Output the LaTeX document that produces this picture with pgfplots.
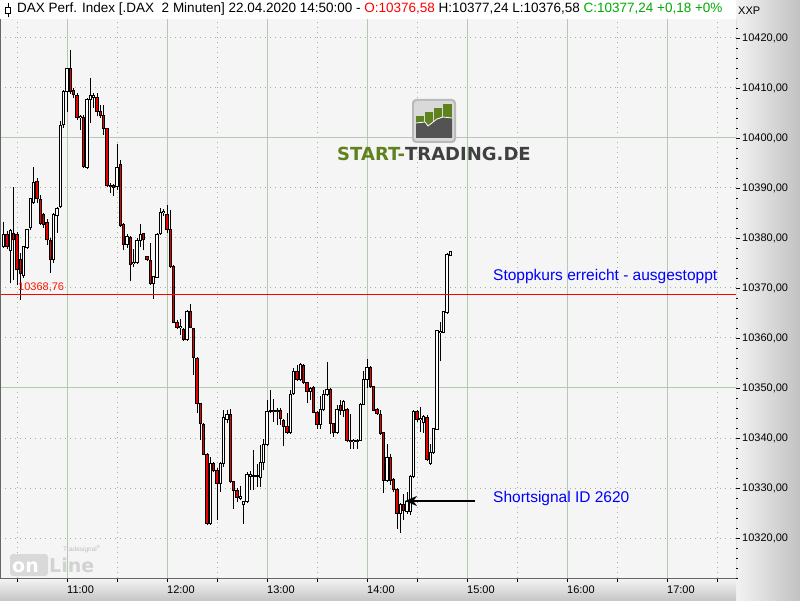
\documentclass[border=0pt]{standalone}
\usepackage{fontspec}
\setmainfont{Liberation Sans}
\newfontfamily\logofont{DejaVu Sans}
\usepackage{pgfplots}
\pgfplotsset{compat=1.18}
\usepackage{pgfplotstable}
\usetikzlibrary{arrows.meta}
\definecolor{bgplot}{RGB}{245,245,245}
\definecolor{gridsolid}{RGB}{180,202,176}
\definecolor{griddot}{RGB}{150,182,150}
\definecolor{candlered}{RGB}{235,0,0}
\definecolor{logogreen}{RGB}{96,130,30}
\definecolor{logogray}{RGB}{64,64,64}
\definecolor{titlegreen}{RGB}{0,170,0}
\definecolor{annblue}{RGB}{0,0,255}

% candle index k: 10:22 + 2 min * k
\pgfplotstableread{
k O H L C
0 10378.2 10383.2 10378.0 10380.8
2 10377.4 10381.8 10371.0 10381.4
6 10372.4 10378.4 10372.0 10378.2
7 10378.0 10381.8 10377.8 10381.6
8 10382.0 10388.0 10381.6 10387.8
9 10387.0 10394.2 10386.8 10391.2
15 10375.6 10385.0 10375.0 10384.8
16 10384.4 10386.2 10381.0 10386.0
17 10386.2 10403.4 10386.0 10402.6
18 10402.6 10409.6 10402.0 10409.2
19 10409.2 10414.0 10405.2 10413.8
23 10404.0 10404.6 10401.6 10404.4
25 10394.1 10408.0 10393.8 10407.6
26 10407.6 10412.0 10403.0 10408.4
27 10408.0 10409.0 10406.0 10408.4
34 10390.3 10398.8 10389.6 10394.1
37 10378.6 10380.8 10378.0 10380.4
39 10374.8 10377.9 10374.2 10375.1
40 10375.1 10380.0 10374.8 10379.5
41 10379.5 10382.8 10378.2 10380.8
45 10370.8 10372.5 10367.8 10372.3
46 10372.1 10381.0 10372.0 10380.8
47 10380.8 10385.9 10380.6 10385.1
48 10385.0 10385.9 10384.3 10385.3
53 10362.0 10363.9 10360.6 10362.3
55 10359.6 10365.7 10359.4 10365.4
62 10322.9 10336.3 10322.7 10334.9
65 10330.9 10335.2 10329.3 10334.9
66 10334.9 10345.6 10334.3 10344.1
67 10343.7 10345.6 10343.0 10344.7
71 10328.0 10330.4 10327.6 10328.3
72 10326.8 10327.5 10322.9 10327.3
73 10327.3 10333.2 10327.0 10332.8
74 10332.4 10333.5 10329.6 10332.8
76 10332.3 10334.9 10330.3 10332.5
77 10332.1 10338.6 10330.3 10335.1
78 10335.1 10339.9 10333.6 10338.7
79 10338.7 10347.6 10338.5 10345.3
80 10345.3 10349.6 10344.9 10345.5
82 10345.2 10346.0 10342.6 10345.4
86 10341.1 10349.6 10340.9 10348.8
87 10348.8 10353.9 10348.6 10353.3
89 10351.6 10355.0 10351.3 10354.6
92 10349.3 10350.2 10347.6 10349.9
95 10342.8 10348.3 10341.9 10345.6
96 10345.6 10349.6 10345.3 10348.8
97 10348.6 10355.3 10348.3 10349.7
100 10341.1 10346.6 10340.9 10345.6
102 10345.5 10347.6 10344.1 10347.3
105 10339.3 10339.9 10337.9 10339.6
106 10339.4 10339.8 10337.9 10339.6
107 10339.6 10347.0 10339.4 10346.7
108 10346.7 10353.5 10346.5 10351.7
109 10351.7 10355.9 10349.9 10354.1
115 10331.6 10338.8 10331.3 10336.1
119 10324.9 10327.0 10321.1 10326.8
121 10325.3 10329.3 10324.9 10327.3
122 10325.3 10332.6 10324.6 10332.3
123 10332.3 10345.6 10332.0 10345.3
125 10343.6 10346.3 10341.3 10343.9
126 10343.1 10344.6 10341.0 10344.3
128 10334.9 10338.9 10334.7 10337.1
129 10337.1 10342.1 10336.9 10341.9
130 10341.8 10361.6 10341.6 10361.4
131 10361.1 10363.3 10355.3 10361.4
132 10361.1 10365.5 10360.9 10365.3
133 10365.1 10377.0 10364.8 10376.8
134 10376.58 10377.24 10376.58 10377.24
}\up

\pgfplotstableread{
k O H L C
1 10380.8 10381.5 10377.8 10378.2
3 10381.0 10390.2 10371.6 10379.6
4 10380.8 10381.2 10370.6 10373.6
5 10375.6 10377.0 10367.6 10372.8
10 10391.2 10392.0 10387.0 10387.8
11 10387.8 10388.6 10382.6 10382.8
12 10384.6 10385.0 10382.0 10382.6
13 10383.0 10383.8 10378.6 10379.6
14 10379.4 10380.0 10373.0 10375.6
20 10413.8 10417.6 10408.8 10409.2
21 10409.4 10410.0 10408.0 10408.6
22 10408.6 10409.0 10403.6 10404.0
24 10404.2 10404.6 10394.0 10394.2
28 10408.2 10409.0 10404.3 10405.3
29 10405.3 10406.6 10404.0 10404.4
30 10404.4 10406.6 10400.6 10401.9
31 10401.9 10402.0 10390.2 10390.4
32 10390.6 10391.0 10388.9 10390.2
33 10390.6 10390.8 10388.3 10390.1
35 10394.6 10395.6 10382.2 10382.4
36 10382.8 10383.0 10377.6 10378.6
38 10380.1 10380.4 10371.3 10374.7
42 10380.8 10381.0 10377.5 10379.6
43 10376.3 10376.5 10375.4 10375.7
44 10375.6 10378.9 10370.6 10370.8
49 10384.8 10386.6 10381.0 10381.6
50 10381.6 10385.6 10374.0 10374.3
51 10374.4 10374.6 10362.9 10363.1
52 10363.1 10363.5 10361.8 10362.1
54 10361.7 10362.0 10359.4 10359.6
56 10365.4 10366.9 10362.0 10362.1
57 10361.9 10362.1 10352.6 10356.1
58 10355.9 10356.1 10344.9 10346.9
59 10346.9 10347.0 10339.6 10342.9
60 10342.8 10343.0 10336.6 10336.8
61 10336.8 10337.0 10322.6 10322.9
63 10334.9 10335.2 10333.2 10333.5
64 10333.6 10334.0 10323.6 10330.9
68 10344.7 10345.9 10331.0 10331.3
69 10331.3 10331.5 10325.9 10329.6
70 10329.6 10330.0 10327.3 10328.1
75 10332.6 10337.6 10329.6 10332.4
81 10345.5 10347.9 10343.3 10345.2
83 10345.4 10346.0 10342.6 10343.9
84 10343.6 10343.9 10338.4 10342.3
85 10342.4 10344.9 10340.9 10341.1
88 10353.3 10354.6 10351.3 10351.6
90 10354.6 10354.8 10350.8 10351.1
91 10351.1 10351.3 10346.9 10349.3
93 10350.1 10350.4 10344.9 10345.1
94 10345.1 10345.3 10341.9 10342.8
98 10349.7 10350.0 10340.9 10342.9
99 10342.9 10343.1 10340.3 10341.1
101 10346.6 10347.6 10344.6 10345.5
103 10345.6 10346.0 10339.3 10339.5
104 10339.6 10344.9 10337.9 10339.3
110 10354.1 10354.3 10350.0 10350.3
111 10350.3 10350.5 10345.3 10345.5
112 10345.6 10346.0 10344.6 10344.8
113 10344.8 10345.5 10340.6 10340.9
114 10341.1 10341.3 10329.1 10331.6
116 10336.1 10336.8 10330.6 10331.6
117 10331.7 10332.0 10329.3 10329.7
118 10329.7 10330.0 10321.9 10324.9
120 10326.8 10328.9 10323.6 10325.5
124 10345.3 10345.6 10343.3 10343.6
127 10344.1 10344.6 10335.5 10335.7
}\down

\pgfplotsset{
  wick/.style={draw=none, no markers, forget plot,
    error bars/.cd, y dir=plus, y explicit, error mark=none,
    error bar style={draw=black, line width=1pt, line cap=butt}},
  bodyout/.style={draw=none, no markers, forget plot,
    error bars/.cd, y dir=plus, y explicit, error mark=none,
    error bar style={draw=black, line width=3.2pt, line cap=butt, shorten <=-0.5pt, shorten >=-0.5pt}},
  bodyin/.style={draw=none, no markers, forget plot,
    error bars/.cd, y dir=plus, y explicit, error mark=none,
    error bar style={draw=#1, line width=1.2pt, line cap=butt, shorten <=0.5pt, shorten >=0.5pt}},
}

\begin{document}
\begin{tikzpicture}[x=1pt,y=1pt]
\useasboundingbox (0,0) rectangle (800,600);
\fill[white] (0,0) rectangle (800,600);
\shade[left color=white!95!black, right color=white!76!black] (736,0) rectangle (800,600);
\shade[top color=white!96!black, bottom color=white!78!black] (0,0) rectangle (736,22);
\begin{axis}[
  at={(0pt,22pt)}, anchor=south west,
  width=736pt, height=559pt, scale only axis,
  xmin=-1.1, xmax=219.7, ymin=10312, ymax=10423.8,
  axis background/.style={fill=bgplot},
  axis line style={draw=none},
  clip=true,
  tick align=outside, xtick pos=left, ytick pos=right, yticklabel pos=right,
  major tick length=4pt, minor tick length=2pt,
  tick style={black, line width=0.8pt},
  xtick={4,34,64,94,124,154,184,214}, xticklabels={},
  extra x ticks={19,49,79,109,139,169,199},
  extra x tick labels={11:00,12:00,13:00,14:00,15:00,16:00,17:00},
  extra x tick style={grid=major, major grid style={draw=gridsolid, line width=1pt, solid},
     xticklabel style={anchor=north west, inner sep=0pt, xshift=0pt, yshift=-4pt}},
  xmajorgrids, ymajorgrids,
  major grid style={draw=griddot, line width=1pt, dash pattern=on 1pt off 4pt},
  ytick={10310,10320,10330,10340,10350,10360,10370,10380,10390,10400,10410,10420,10430},
  minor y tick num=4,
  extra y ticks={10350,10400}, extra y tick labels={},
  extra y tick style={grid=major, major grid style={draw=gridsolid, line width=1pt, solid}},
  scaled y ticks=false,
  yticklabel style={font=\fontsize{11}{13}\selectfont, anchor=west, inner sep=0pt, xshift=2pt},
  xticklabel style={font=\fontsize{11}{13}\selectfont},
  /pgf/number format/.cd, fixed, fixed zerofill, precision=2, use comma, 1000 sep={}, assume math mode=true
]
% wicks
\addplot[wick] table[x=k, y=L, y error expr=\thisrow{H}-\thisrow{L}] {\up};
\addplot[wick] table[x=k, y=L, y error expr=\thisrow{H}-\thisrow{L}] {\down};
% up bodies (hollow)
\addplot[bodyout] table[x=k, y=O, y error expr=\thisrow{C}-\thisrow{O}] {\up};
\addplot[bodyin=white] table[x=k, y=O, y error expr=\thisrow{C}-\thisrow{O}] {\up};
% down bodies (red)
\addplot[bodyout] table[x=k, y=C, y error expr=\thisrow{O}-\thisrow{C}] {\down};
\addplot[bodyin=candlered] table[x=k, y=C, y error expr=\thisrow{O}-\thisrow{C}] {\down};
% stop line
\addplot[draw=red, line width=1pt, forget plot, no markers] coordinates {(-1.1,10368.76) (219.7,10368.76)};
\node[anchor=south west, inner sep=1pt, text=red!85!orange, font=\fontsize{11}{13}\selectfont]
  at (axis cs:4.0,10368.9) {10368,76};
% annotations
\node[anchor=west, inner sep=0pt, text=annblue, font=\fontsize{15.5}{17}\selectfont]
  at (axis cs:146.8,10372.4) {Stoppkurs erreicht - ausgestoppt};
\node[anchor=west, inner sep=0pt, text=annblue, font=\fontsize{15.5}{17}\selectfont]
  at (axis cs:146.8,10328.0) {Shortsignal ID 2620};
\draw[black, line width=2.5pt, -{Stealth[length=12pt,width=10pt]}]
  (axis cs:141.4,10327.4) -- (axis cs:120.4,10327.4);
% borders
\draw[gray!80!black, line width=1pt] (rel axis cs:0,1) -- (rel axis cs:0,0) -- (rel axis cs:1,0) -- (rel axis cs:1,1);
\end{axis}
% title bar
\fill[white] (0,581) rectangle (736,600);
\draw[black, line width=0.8pt] (8,583) -- (8,597);
\filldraw[fill=white, draw=black, line width=0.8pt] (5.5,587) rectangle (10.5,593);
\node[anchor=west, inner sep=0pt, font=\fontsize{13.5}{15}\selectfont] at (17,590.5)
  {DAX Perf. Index [.DAX\ \ 2 Minuten] 22.04.2020 14:50:00 - \textcolor{red}{O:10376,58} H:10377,24 L:10376,58 \textcolor{titlegreen}{C:10377,24 +0,18 +0\%}};
\node[anchor=west, inner sep=0pt, font=\fontsize{11}{13}\selectfont] at (738,589) {XXP};
% START-TRADING.DE logo
\fill[gray!55, rounded corners=4pt] (412,457) rectangle (456,501);
\fill[white!85!black, rounded corners=3pt] (414,459) rectangle (454,499);
\fill[logogreen] (416,462) rectangle (424,484);
\fill[logogreen] (425,462) rectangle (433,488);
\fill[logogreen] (434,462) rectangle (442,492);
\fill[logogreen] (443,462) rectangle (452,496);
\fill[logogray!90] (416,462) -- (416,477) -- (425,478) -- (428,474) -- (437,481) -- (443,483) -- (452,482) -- (452,462) -- cycle;
\draw[white, line width=0.8pt] (416,477) -- (425,478) -- (428,474) -- (437,481) -- (443,483) -- (452,482);
\node[anchor=base, inner sep=0pt, font=\logofont\bfseries\fontsize{18}{20}\selectfont] at (434,439)
  {\textcolor{logogreen}{START-}\textcolor{logogray}{TRADING.DE}};
% Tradesignal online logo
\fill[gray!30, rounded corners=3pt] (10,24) rectangle (48,46);
\node[anchor=base west, inner sep=0pt, text=white, font=\logofont\bfseries\fontsize{19}{20}\selectfont] at (12,28) {on};
\node[anchor=base west, inner sep=0pt, text=gray!35, font=\logofont\bfseries\fontsize{19}{20}\selectfont] at (49,28) {Line};
\node[anchor=west, inner sep=0pt, text=gray!50, font=\fontsize{6.5}{7}\selectfont] at (63,51) {Tradesignal\textsuperscript{®}};
\end{tikzpicture}
\end{document}
